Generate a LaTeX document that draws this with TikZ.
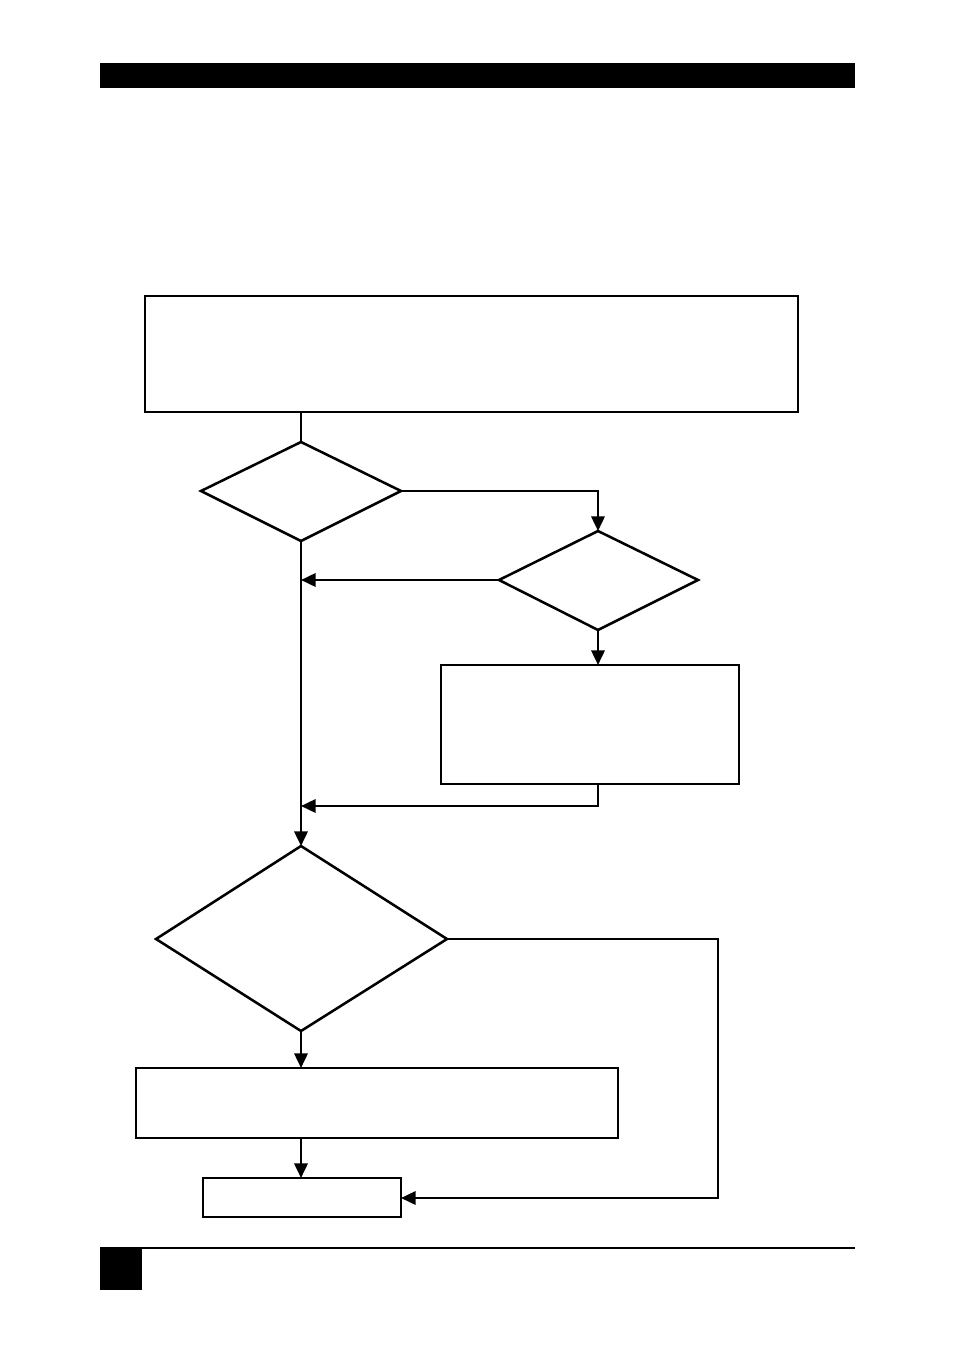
\documentclass[tikz,border=0pt]{standalone}
\usetikzlibrary{arrows.meta,shapes.geometric}
\begin{document}
\begin{tikzpicture}[x=0.75pt,y=-0.75pt,
  ln/.style={line width=1.9pt,-{Triangle[length=11pt,width=10pt]}},
  pl/.style={line width=1.9pt},
  bx/.style={draw,line width=1.9pt}]
\useasboundingbox (0,0) rectangle (954,1351);
\fill (100,63) rectangle (855,88);
\draw[line width=0.8pt] (100,1248) -- (855,1248);
\fill (100,1248) rectangle (142,1290);
% boxes
\draw[bx] (145,296) rectangle (798,412);
\coordinate (b1s) at (301,412);
\draw[bx] (441,665) rectangle (739,784);
\coordinate (b2n) at (598,665); \coordinate (b2s) at (598,784);
\draw[bx] (136,1068) rectangle (618,1138);
\coordinate (b3n) at (301,1068); \coordinate (b3s) at (301,1138);
\draw[bx] (203,1178) rectangle (401,1217);
\coordinate (b4n) at (301,1178); \coordinate (b4e) at (401,1198);
% diamonds
\draw[pl] (301,442) coordinate (d1n) -- (401,491) coordinate (d1e) -- (301,541) coordinate (d1s) -- (201,491) -- cycle;
\draw[pl] (598,531) coordinate (d2n) -- (698,580) -- (598,630) coordinate (d2s) -- (499,580) coordinate (d2w) -- cycle;
\draw[pl] (301,846) coordinate (d3n) -- (447,939) coordinate (d3e) -- (301,1031) coordinate (d3s) -- (156,939) -- cycle;
% connectors
\draw[pl] (b1s) -- (d1n);
\draw[ln] (d1e) -| (d2n);
\draw[ln] (d2w) -- (301,580);
\draw[ln] (d1s) -- (d3n);
\draw[ln] (d2s) -- (b2n);
\draw[ln] (b2s) |- (301,806);
\draw[ln] (d3s) -- (b3n);
\draw[ln] (b3s) -- (b4n);
\draw[ln] (d3e) -- (718,939) |- (b4e);
\end{tikzpicture}
\end{document}
